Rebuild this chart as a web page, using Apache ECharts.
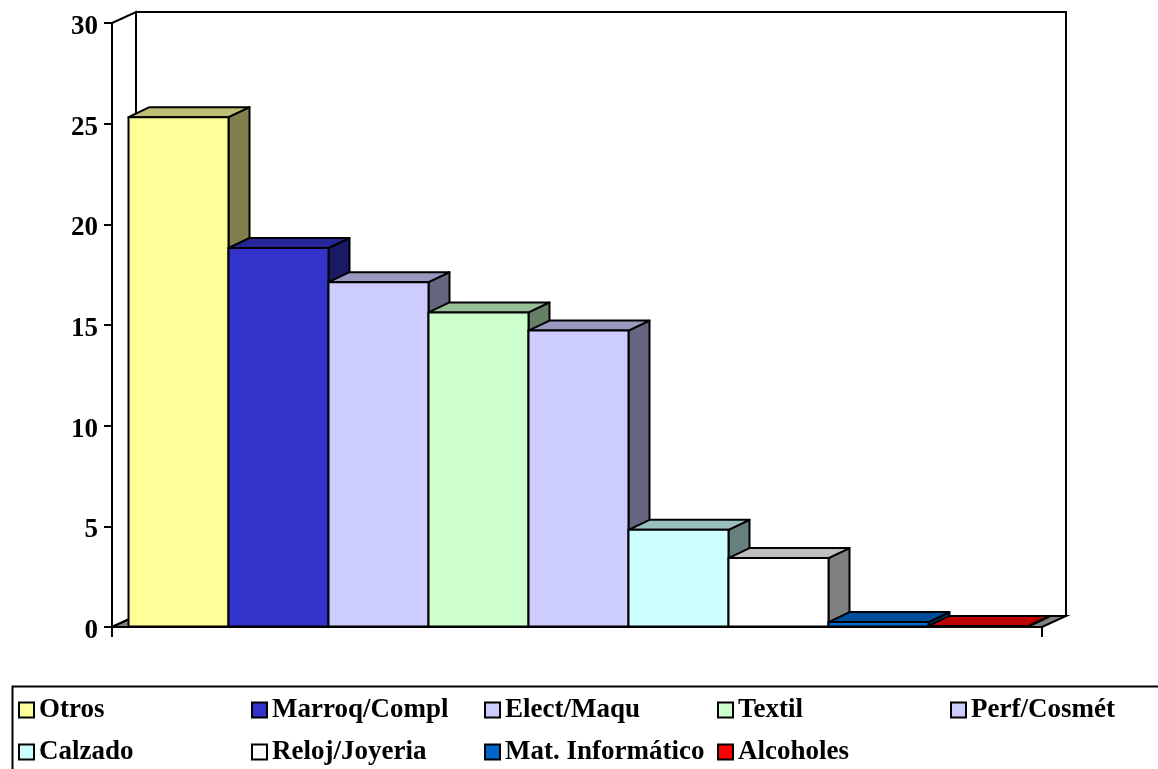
<!DOCTYPE html>
<html><head><meta charset="utf-8">
<script src="https://cdn.jsdelivr.net/npm/echarts@6/dist/echarts.min.js"></script>
<style>html,body{margin:0;padding:0;background:#fff}#c{width:1158px;height:769px}</style>
</head><body><div id="c"></div>
<script>
// ---- data ----
const seriesNames = ['Otros', 'Marroq/Compl', 'Elect/Maqu', 'Textil', 'Perf/Cosmét', 'Calzado', 'Reloj/Joyeria', 'Mat. Informático', 'Alcoholes'];
const seriesValues = [25.3, 18.8, 17.1, 15.6, 14.7, 4.8, 3.4, 0.22, 0.03];
const seriesColors = ['#FFFF99', '#3333CC', '#CCCCFF', '#CCFFCC', '#CCCCFF', '#CCFFFF', '#FFFFFF', '#0066CC', '#FF0000'];
const categories = [''];
const yMin = 0, yMax = 30, yStep = 5;

// ---- style helpers ----
const FONT = "'Liberation Serif','Times New Roman',serif";
const WALL_DX = 24, WALL_DY = -11;
const BAR_DX = 21, BAR_DY = -10;
const GAP_RATIO = 0.3; // excel gap width 30%

function shade(hex, f) {
  const n = parseInt(hex.slice(1), 16);
  const r = Math.round(((n >> 16) & 255) * f), g = Math.round(((n >> 8) & 255) * f), b = Math.round((n & 255) * f);
  return 'rgb(' + r + ',' + g + ',' + b + ')';
}

function barRenderer(idx, color) {
  return function (params, api) {
    const v = api.value(1);
    const base = api.coord([api.value(0), 0]);
    const top = api.coord([api.value(0), v]);
    const band = api.size([1, 0])[0];
    const n = seriesNames.length;
    const w = band / (n + GAP_RATIO);
    const off = (WALL_DX - BAR_DX) / 2, offy = (WALL_DY - BAR_DY) / 2;
    const x0 = base[0] - band / 2 + (GAP_RATIO / 2) * w + idx * w + off;
    const x1 = x0 + w;
    const yb = base[1] + offy, yt = top[1] + offy;
    const ls = { stroke: '#000', lineWidth: 2, lineJoin: 'round' };
    return {
      type: 'group',
      children: [
        { type: 'polygon', shape: { points: [[x1, yt], [x1 + BAR_DX, yt + BAR_DY], [x1 + BAR_DX, yb + BAR_DY], [x1, yb]] },
          style: Object.assign({ fill: shade(color, 0.5) }, ls) },
        { type: 'polygon', shape: { points: [[x0, yt], [x0 + BAR_DX, yt + BAR_DY], [x1 + BAR_DX, yt + BAR_DY], [x1, yt]] },
          style: Object.assign({ fill: shade(color, 0.75) }, ls) },
        { type: 'rect', shape: { x: x0, y: yt, width: w, height: yb - yt },
          style: Object.assign({ fill: color }, ls) }
      ]
    };
  };
}

function wallRenderer(params, api) {
  const b = api.coord([0, yMin]);
  const t = api.coord([0, yMax]);
  const band = api.size([1, 0])[0];
  const L = b[0] - band / 2, R = b[0] + band / 2, yb = b[1], yt = t[1];
  const ls = { stroke: '#000', lineWidth: 2, lineJoin: 'miter' };
  return {
    type: 'group',
    children: [
      { type: 'rect', shape: { x: L + WALL_DX, y: yt + WALL_DY, width: R - L, height: yb - yt }, style: Object.assign({ fill: '#fff' }, ls) },
      { type: 'polygon', shape: { points: [[L, yt], [L + WALL_DX, yt + WALL_DY], [L + WALL_DX, yb + WALL_DY], [L, yb]] }, style: Object.assign({ fill: '#fff' }, ls) },
      { type: 'polygon', shape: { points: [[L, yb], [R, yb], [R + WALL_DX, yb + WALL_DY], [L + WALL_DX, yb + WALL_DY]] }, style: Object.assign({ fill: '#808080' }, ls) }
    ]
  };
}

const series = [{
  type: 'custom', name: '__walls', renderItem: wallRenderer, data: [[0, yMax]], silent: true, z: 1
}];
seriesNames.forEach(function (name, i) {
  series.push({
    type: 'custom', name: name, z: 2,
    renderItem: barRenderer(i, seriesColors[i]),
    itemStyle: { color: seriesColors[i] },
    data: [[0, seriesValues[i]]]
  });
});

const chart = echarts.init(document.getElementById('c'), null, { renderer: 'canvas' });
chart.setOption({
  animation: false,
  backgroundColor: '#fff',
  grid: { left: 112, right: 116, top: 23, bottom: 142, containLabel: false },
  xAxis: {
    type: 'category', data: categories, boundaryGap: true,
    axisLine: { show: true, lineStyle: { color: '#000', width: 2 } },
    axisTick: { show: true, length: 10, lineStyle: { color: '#000', width: 2 } },
    axisLabel: { show: false }, splitLine: { show: false }, z: 5
  },
  yAxis: {
    type: 'value', min: yMin, max: yMax, interval: yStep,
    axisLine: { show: true, lineStyle: { color: '#000', width: 2 } },
    axisTick: { show: true, length: 8, lineStyle: { color: '#000', width: 2 } },
    axisLabel: { show: true, color: '#000', fontFamily: FONT, fontWeight: 'bold', fontSize: 27, margin: 14, verticalAlign: 'top', lineHeight: 8 },
    splitLine: { show: false }, z: 5
  },
  legend: {
    data: seriesNames,
    left: 18, top: 689, width: 1175, padding: 0,
    orient: 'horizontal', icon: 'rect', itemWidth: 15, itemHeight: 15, itemGap: 0,
    itemStyle: { borderColor: '#000', borderWidth: 2 },
    textStyle: { color: '#000', fontFamily: FONT, fontWeight: 'bold', fontSize: 27, width: 212, lineHeight: 42, overflow: 'none' },
    selectedMode: false
  },
  graphic: [{
    type: 'rect', left: 10, top: 684, shape: { width: 1170, height: 100 },
    style: { fill: 'none', stroke: '#000', lineWidth: 2 }, z: -1
  }],
  series: series
});
</script>
</body></html>
